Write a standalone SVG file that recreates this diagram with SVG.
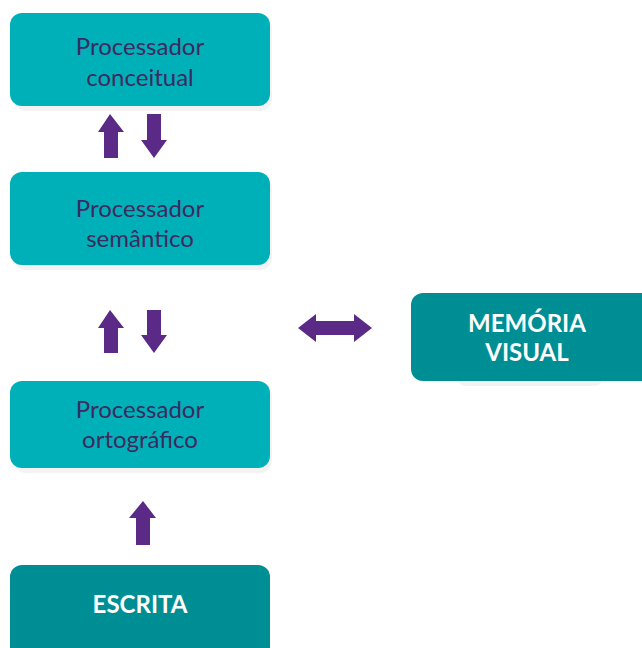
<svg xmlns="http://www.w3.org/2000/svg" width="642" height="648" viewBox="0 0 642 648">
<defs>
<style>
.box{fill:#00B0B9}
.dark{fill:#008E95}
.sh{fill:#F3F3F3}
.t{font-family:"Lato","Noto Sans",sans-serif;font-size:24px;fill:#3B2A5E;text-anchor:middle}
.b{font-family:"Lato","Noto Sans",sans-serif;font-size:24px;font-weight:bold;fill:#FFFFFF;text-anchor:middle}
.ar{fill:#5B2A86}
</style>
</defs>
<rect width="642" height="648" fill="#FFFFFF"/>
<g id="conceitual">
<rect class="sh" x="14" y="17" width="258" height="94" rx="12"/>
<rect class="box" x="10" y="13" width="260" height="93" rx="12"/>
<text class="t" x="140" y="55">Processador</text>
<text class="t" x="140" y="86">conceitual</text>
</g>
<g id="semantico">
<rect class="sh" x="14" y="176" width="258" height="94" rx="12"/>
<rect class="box" x="10" y="172" width="260" height="93" rx="12"/>
<text class="t" x="140" y="217">Processador</text>
<text class="t" x="140" y="247">semântico</text>
</g>
<g id="ortografico">
<rect class="sh" x="14" y="385" width="258" height="88" rx="12"/>
<rect class="box" x="10" y="381" width="260" height="87" rx="12"/>
<text class="t" x="140" y="418">Processador</text>
<text class="t" x="140" y="448">ortográfico</text>
</g>
<g id="escrita">
<rect class="dark" x="10" y="565" width="260" height="100" rx="12"/>
<text class="b" x="140" y="613">ESCRITA</text>
</g>
<g id="memoria">
<rect class="sh" x="455" y="300" width="150" height="86" rx="12"/>
<rect class="dark" x="411" y="293" width="250" height="88" rx="12"/>
<text class="b" x="527" y="332">MEMÓRIA</text>
<text class="b" x="527" y="361">VISUAL</text>
</g>
<g id="connectors">
<polygon class="ar" points="110,114 124,132 118,132 118,158 104,158 104,132 98,132"/>
<polygon class="ar" points="147,114 161,114 161,140 167,140 154,158 141,140 147,140"/>
<polygon class="ar" points="110,310 124,328 118,328 118,353 104,353 104,328 98,328"/>
<polygon class="ar" points="147,310 161,310 161,335 167,335 154,353 141,335 147,335"/>
<polygon class="ar" points="143,501 156,518 150,518 150,545 136,545 136,518 129,518"/>
<polygon class="ar" points="298,328 316,314 316,321 354,321 354,314 372,328 354,342 354,335 316,335 316,342"/>
</g>
</svg>
